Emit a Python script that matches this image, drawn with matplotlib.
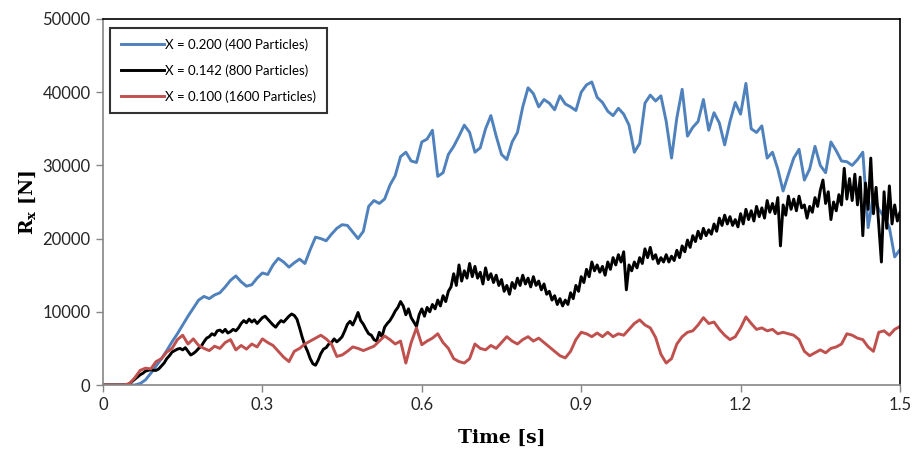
import matplotlib
matplotlib.use("Agg")
import matplotlib.pyplot as plt
import numpy as np

blue_kn = [
    0, 0, 0, 0, 0, 0, 0, 0.2, 0.7, 1.6,
    2.6, 3.6, 4.7, 5.9, 7.0, 8.2, 9.4, 10.5, 11.6, 12.1,
    11.8, 12.3, 12.6, 13.4, 14.3, 14.9, 14.1, 13.5, 13.7, 14.6,
    15.3, 15.1, 16.4, 17.3, 16.8, 16.1, 16.7, 17.2, 16.6, 18.5,
    20.2, 20.0, 19.7, 20.6, 21.4, 21.9, 21.8, 20.9, 20.0, 21.0,
    24.4, 25.2, 24.8, 25.4, 27.3, 28.6, 31.2, 31.8, 30.6, 30.4,
    33.2, 33.6, 34.8, 28.5, 29.0, 31.5, 32.6, 34.0, 35.5, 34.5,
    31.8, 32.4, 35.0, 36.8, 34.0, 31.5, 30.8, 33.2, 34.5, 38.0,
    40.6, 39.8, 38.0, 39.0, 38.5, 37.6, 39.5, 38.4, 38.0, 37.5,
    40.0, 41.0, 41.4, 39.3, 38.6, 37.4, 36.8, 37.8, 37.0, 35.5,
    31.8, 33.0, 38.5, 39.6, 38.8, 39.5, 36.0, 31.0, 36.5, 40.4,
    34.0, 35.2, 36.0, 39.0, 34.8, 37.2, 35.8, 32.8, 36.0, 38.6,
    37.0, 41.2, 35.0, 34.5, 35.4, 31.0, 31.8, 29.5, 26.5, 28.8,
    31.0, 32.2, 28.0, 29.5, 32.6, 30.0, 29.0, 33.2, 32.0, 30.6,
    30.5, 30.0, 30.8, 31.8, 21.5, 26.0, 24.0, 23.0, 21.5, 17.5,
    18.5,
]

red_kn = [
    0, 0, 0, 0, 0, 0.2, 1.0, 2.0, 2.3, 2.2,
    3.2, 3.6, 4.5, 5.0, 6.2, 6.8, 5.6, 6.3, 5.4, 5.0,
    4.7, 5.3, 5.0, 5.8, 6.2, 4.8, 5.4, 4.9, 5.6, 5.2,
    6.3, 5.8, 5.4, 4.6, 3.8, 3.2, 4.6, 5.0, 5.6, 6.0,
    6.4, 6.8, 6.3, 5.6, 3.9, 4.1, 4.6, 5.2, 5.0, 4.7,
    5.0, 5.3, 6.0, 6.7, 6.2, 5.6, 6.0, 3.0, 5.8, 7.8,
    5.5, 6.0, 6.4, 7.0, 5.8, 5.0, 3.6, 3.2, 3.0, 3.6,
    5.6, 5.0, 4.8, 5.4, 5.0, 5.8, 6.6, 6.0, 5.6, 6.2,
    6.6, 6.0, 6.4, 5.8, 5.2, 4.6, 4.0, 3.7, 4.6, 6.2,
    7.2, 7.0, 6.6, 7.1, 6.6, 7.2, 6.6, 7.0, 6.8, 7.6,
    8.4, 8.9, 8.2, 7.8, 6.5, 4.2, 3.0, 3.6, 5.6, 6.6,
    7.2, 7.4, 8.2, 9.2, 8.4, 8.6, 7.6, 6.8, 6.2, 6.6,
    7.8, 9.3, 8.4, 7.6, 7.8, 7.4, 7.6, 7.0, 7.2, 7.0,
    6.8, 6.2, 4.6, 4.0, 4.4, 4.8, 4.4, 5.0, 5.2, 5.6,
    7.0, 6.8, 6.4, 6.2, 5.2, 4.6, 7.2, 7.4, 6.8, 7.6,
    8.0,
]

black_kn = [
    0, 0, 0, 0, 0, 0, 0, 0, 0, 0, 0.2, 0.5, 0.8, 1.1, 1.4, 1.6, 1.9, 2.0, 2.1, 2.0,
    2.0, 2.2, 2.6, 3.0, 3.6, 4.0, 4.5, 4.7, 4.9, 5.0, 4.8, 5.1, 4.6, 4.1, 4.3, 4.6, 5.0, 5.3, 5.9, 6.4,
    6.6, 7.0, 6.8, 7.4, 7.5, 7.2, 7.6, 7.1, 7.3, 7.6, 7.4, 7.8, 8.4, 8.8, 8.5, 9.0, 8.6, 8.9, 8.4, 8.8,
    9.2, 9.4, 9.0, 8.6, 8.2, 7.9, 8.4, 8.8, 8.6, 9.0, 9.4, 9.7, 9.5, 9.0, 7.8, 6.5, 5.4, 4.6, 3.6, 2.9,
    2.7, 3.4, 4.3, 4.9, 5.1, 5.6, 5.8, 6.3, 5.9, 6.2, 6.6, 7.4, 8.3, 8.7, 8.2, 9.0, 9.9, 8.8, 8.3, 7.6,
    7.0, 6.8, 6.2, 6.0, 7.2, 6.6, 7.9, 8.4, 8.8, 9.4, 10.1, 10.6, 11.4, 10.8, 9.6, 10.4, 9.2, 8.6, 8.0, 9.6,
    10.4, 9.4, 10.6, 10.0, 11.0, 10.4, 11.6, 10.8, 12.2, 11.4, 12.8, 13.4, 15.2, 13.6, 16.4, 14.2, 15.6, 14.6, 16.6, 14.8,
    16.2, 14.6, 15.4, 13.8, 16.0, 14.4, 15.2, 14.0, 15.0, 13.6, 14.4, 12.8, 13.6, 12.4, 14.0, 13.2, 14.6, 13.6, 15.0, 13.8,
    14.6, 13.4, 14.8, 13.6, 14.2, 13.0, 13.8, 12.4, 12.8, 11.6, 12.2, 11.0, 11.8, 10.8, 11.6, 11.0, 12.6, 11.8, 13.6, 12.8,
    14.8, 14.0, 15.8, 14.8, 16.8, 15.6, 16.4, 15.4, 16.2, 15.0, 16.8, 15.8, 17.4, 16.4, 17.8, 16.8, 18.2, 13.0, 16.4, 15.6,
    16.8, 16.0, 17.4, 16.6, 18.6, 17.4, 18.8, 17.2, 17.8, 16.6, 17.4, 16.8, 17.8, 16.8, 17.6, 17.0, 18.4, 17.4, 19.0, 18.2,
    19.8, 18.8, 20.4, 19.6, 21.0, 20.0, 21.4, 20.4, 21.2, 20.6, 22.0, 21.0, 22.8, 21.8, 23.2, 22.0, 23.0, 21.8, 22.6, 21.6,
    23.4, 22.0, 24.0, 22.6, 23.8, 22.4, 24.4, 23.0, 24.2, 22.8, 25.2, 23.6, 24.8, 23.4, 25.6, 19.0, 24.6, 23.2, 25.8, 24.0,
    25.4, 23.8, 25.8, 24.2, 24.6, 22.8, 24.4, 23.6, 25.6, 24.4, 26.6, 28.0, 24.8, 26.4, 22.6, 25.0, 23.8, 26.0, 24.6, 29.6,
    25.4, 28.2, 25.2, 28.8, 24.6, 28.4, 20.4, 27.6, 24.0, 31.0, 23.4, 27.0, 22.0, 16.8, 26.4, 21.4, 27.2, 22.0, 24.6, 22.4,
    23.6,
]

labels = ['X = 0.200 (400 Particles)', 'X = 0.142 (800 Particles)', 'X = 0.100 (1600 Particles)']
colors = ['#4F81BD', '#000000', '#C0504D']

t_blue = np.arange(len(blue_kn)) * 0.01
t_red = np.arange(len(red_kn)) * 0.01
t_black = np.arange(len(black_kn)) * 0.005

fig = plt.figure(figsize=(9.16, 4.51), dpi=100)
ax = fig.add_axes([103 / 916, 66 / 451, 797 / 916, 366 / 451])

ax.plot(t_blue, np.array(blue_kn) * 1000, color=colors[0], lw=2.1, label=labels[0])
ax.plot(t_black, np.array(black_kn) * 1000, color=colors[1], lw=2.1, label=labels[1])
ax.plot(t_red, np.array(red_kn) * 1000, color=colors[2], lw=2.1, label=labels[2])

ax.set_xlim(0, 1.5)
ax.set_ylim(0, 50000)
ax.set_xticks([0, 0.3, 0.6, 0.9, 1.2, 1.5])
ax.set_xticklabels(['0', '0.3', '0.6', '0.9', '1.2', '1.5'])
ax.set_yticks(range(0, 50001, 10000))

for s in ['top', 'right']:
    ax.spines[s].set_color('black')
    ax.spines[s].set_linewidth(1.2)
for s in ['left', 'bottom']:
    ax.spines[s].set_color('#868686')
    ax.spines[s].set_linewidth(1.2)
ax.tick_params(axis='both', direction='out', length=5, width=1, color='#868686',
               labelsize=12, labelcolor='#262626', pad=4)
for lab in ax.get_xticklabels() + ax.get_yticklabels():
    lab.set_family('Lato')

ax.set_xlabel('Time [s]', family='DejaVu Serif', fontweight='bold', fontsize=13.5, labelpad=11)
ax.set_ylabel(r'R$_\mathregular{x}$ [N]', family='DejaVu Serif', fontweight='bold', fontsize=13.5, labelpad=3)

leg = ax.legend(loc='upper left', bbox_to_anchor=(7 / 797, 1 - 9 / 366), borderaxespad=0,
                fancybox=False, frameon=True, handlelength=3.3, handletextpad=0.1,
                labelspacing=1.0, borderpad=0.8, prop={'family': 'Lato', 'size': 9.5})
leg.get_frame().set_edgecolor('black')
leg.get_frame().set_linewidth(1.5)

plt.savefig('out.png', dpi=100)
plt.close()
